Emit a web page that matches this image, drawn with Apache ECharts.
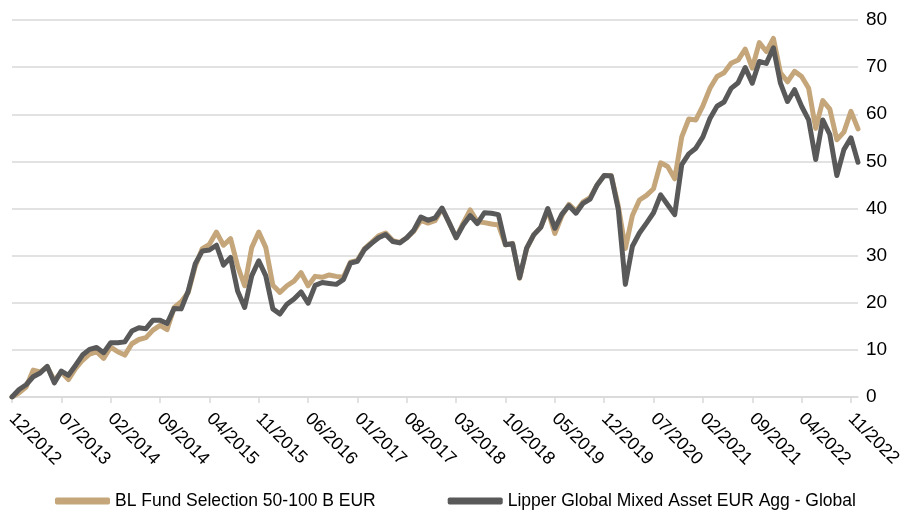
<!DOCTYPE html>
<html>
<head>
<meta charset="utf-8">
<script src="https://cdn.jsdelivr.net/npm/echarts@6/dist/echarts.min.js"></script>
<style>
  html, body { margin: 0; padding: 0; background: #ffffff; }
  #chart { width: 906px; height: 513px; }
</style>
</head>
<body>
<div id="chart"></div>
<script>
// Monthly performance (%) since 12/2012
const seriesNames = ['BL Fund Selection 50-100 B EUR', 'Lipper Global Mixed Asset EUR Agg - Global'];

// Month labels MM/YYYY, starting 12/2012
const months = [];
for (let k = 0; k < 121; k++) {
  const m = (11 + k) % 12 + 1;
  const y = 2012 + Math.floor((11 + k) / 12);
  months.push(String(m).padStart(2, '0') + '/' + y);
}

const blFund = [
  0, 0.9, 2.1, 5.7, 5.3, 6.4, 3.5, 5.3, 3.7, 6.0,
  7.8, 9.1, 9.6, 8.2, 10.6, 9.6, 8.9, 11.3, 12.2, 12.6,
  14.2, 15.2, 14.3, 19.0, 20.2, 22.2, 27.8, 31.5, 32.4, 35.0,
  32.2, 33.6, 27.8, 23.6, 31.7, 35.0, 31.7, 23.7, 22.2, 23.6,
  24.6, 26.4, 23.6, 25.6, 25.4, 25.9, 25.6, 25.4, 28.6, 29.0,
  31.5, 32.8, 34.2, 34.8, 33.2, 32.8, 33.8, 35.2, 37.5, 36.9,
  37.4, 40.0, 37.0, 33.8, 36.9, 39.7, 37.2, 37.0, 36.7, 36.5,
  32.3, 32.6, 25.2, 31.5, 34.4, 36.0, 39.6, 34.7, 38.5, 40.9,
  39.4, 41.4, 42.3, 45.0, 47.0, 47.0, 40.5, 31.5, 38.5, 41.8,
  42.8, 44.2, 49.7, 48.9, 46.3, 55.2, 59.0, 58.8, 61.8, 65.5,
  68.0, 68.8, 70.8, 71.5, 73.8, 69.8, 75.2, 73.3, 76.1, 68.8,
  66.9, 69.1, 68.0, 65.5, 57.0, 62.9, 61.1, 54.6, 56.2, 60.6,
  56.9
];

const lipperPeer = [
  0, 1.6, 2.6, 4.3, 5.1, 6.5, 3.0, 5.5, 4.6, 6.7,
  8.9, 10.1, 10.5, 9.4, 11.5, 11.5, 11.7, 14.0, 14.7, 14.5,
  16.3, 16.3, 15.6, 18.8, 18.7, 22.5, 28.3, 31.0, 31.2, 32.2,
  28.0, 29.6, 22.5, 19.0, 25.7, 28.9, 25.7, 18.7, 17.6, 19.7,
  20.8, 22.3, 19.9, 23.7, 24.3, 24.1, 23.9, 24.9, 28.4, 28.8,
  31.3, 32.6, 33.8, 34.5, 33.0, 32.7, 33.8, 35.4, 38.2, 37.5,
  38.0, 40.1, 37.0, 33.8, 36.5, 38.5, 36.8, 39.1, 39.0, 38.7,
  32.3, 32.5, 25.3, 31.6, 34.4, 36.0, 40.0, 35.8, 38.8, 40.6,
  39.0, 41.1, 42.0, 45.0, 47.0, 46.9, 39.8, 23.9, 32.0, 34.8,
  36.9, 39.1, 42.9, 40.8, 38.7, 49.3, 51.6, 52.8, 55.2, 59.1,
  61.7, 62.6, 65.5, 66.7, 69.9, 66.6, 71.2, 70.8, 74.1, 66.6,
  62.7, 65.2, 61.7, 58.8, 50.4, 58.8, 55.7, 47.0, 52.5, 55.0,
  49.8
];

const colors = ['#C4A67A', '#595959'];
const fontFamily = "'Liberation Sans', Arial, sans-serif";

const chart = echarts.init(document.getElementById('chart'), null, { renderer: 'canvas' });

chart.setOption({
  animation: false,
  backgroundColor: '#ffffff',
  color: colors,
  textStyle: { fontFamily: fontFamily },
  grid: { left: 12, right: 48, top: 20, bottom: 116, containLabel: false },
  legend: {
    data: seriesNames,
    left: 50,
    top: 487,
    icon: 'roundRect',
    itemWidth: 55,
    itemHeight: 7,
    itemGap: 72,
    textStyle: { fontSize: 17.5, color: '#000000', fontFamily: fontFamily }
  },
  xAxis: {
    type: 'category',
    data: months,
    boundaryGap: false,
    axisLine: { show: true, lineStyle: { color: '#D9D9D9', width: 1.5 } },
    axisTick: { show: true, interval: 6, length: 6, lineStyle: { color: '#D9D9D9', width: 1.5 } },
    axisLabel: {
      interval: 6,
      rotate: -45,
      margin: 19,
      fontSize: 18,
      color: '#000000',
      fontFamily: fontFamily
    },
    splitLine: { show: false }
  },
  yAxis: {
    type: 'value',
    position: 'right',
    min: 0,
    max: 80,
    interval: 10,
    axisLine: { show: false },
    axisTick: { show: false },
    axisLabel: { margin: 8, fontSize: 19, color: '#000000', fontFamily: fontFamily },
    splitLine: { show: true, lineStyle: { color: '#D9D9D9', width: 1.5 } }
  },
  series: [
    {
      name: seriesNames[0],
      type: 'line',
      data: blFund,
      symbol: 'none',
      showSymbol: false,
      lineStyle: { width: 5, color: colors[0], cap: 'round', join: 'round' }
    },
    {
      name: seriesNames[1],
      type: 'line',
      data: lipperPeer,
      symbol: 'none',
      showSymbol: false,
      lineStyle: { width: 5, color: colors[1], cap: 'round', join: 'round' }
    }
  ]
});
</script>
</body>
</html>
